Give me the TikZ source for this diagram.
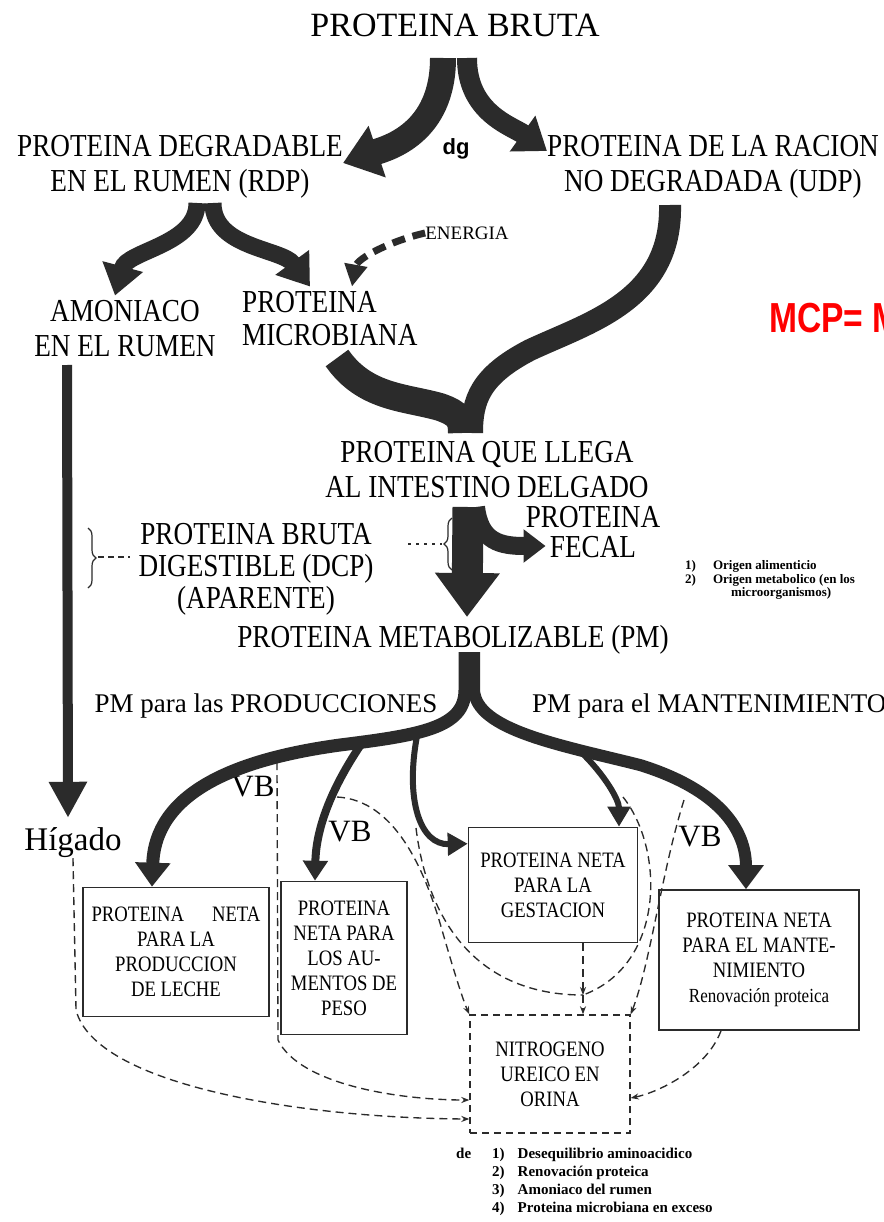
\documentclass[tikz,border=0pt]{standalone}
\usepackage{fontspec}
\setmainfont{Liberation Serif}
\newfontfamily\condfont{Liberation Serif}[FakeStretch=0.85]
\newfontfamily\mcpfont{Liberation Sans}[FakeStretch=0.8]
\newfontfamily\sansfont{Liberation Sans}
\usepackage{xcolor}
\usepackage{tikz}
\usetikzlibrary{arrows.meta,decorations.pathreplacing}
\definecolor{ink}{HTML}{2B2B2B}
\definecolor{mcpred}{HTML}{FF0000}
\newcommand{\fsz}[2]{\fontsize{#1}{#2}\selectfont}

\begin{document}
\begin{tikzpicture}[x=1pt,y=-1pt,
  txt/.style={font=\condfont\fsz{32}{35},align=center,inner sep=0pt},
  plain/.style={inner sep=0pt},
  boxtxt/.style={font=\condfont\fsz{22}{25},align=center},
  netbox/.style={draw=ink,line width=1.6pt,boxtxt,inner sep=0pt},
  urbox/.style={netbox,line width=1.4pt,dash pattern=on 7pt off 5pt},
  note/.style={font=\bfseries\fsz{13}{13.5},align=left,inner sep=0pt},
  fat/.style={draw=ink,line width=#1},
  ahead/.style 2 args={-{Triangle[length=#1,width=#2]}},
  loss/.style={draw=ink,line width=1.35pt,dash pattern=on 8pt off 5pt},
  lossarr/.style={loss,-{Stealth[length=8pt,width=6pt]}}
]
\useasboundingbox (0,0) rectangle (883,1222);
\fill[white] (0,0) rectangle (883,1222);
\clip (0,0) rectangle (883,1222);

\node[plain,font=\fsz{34}{34}] (pb) at (455,25) {PROTEINA BRUTA};
\node[txt] (rdp) at (180,167) {PROTEINA DEGRADABLE\\EN EL RUMEN (RDP)};
\node[txt] (udp) at (713,167) {PROTEINA DE LA RACION\\NO DEGRADADA (UDP)};
\node[plain,font=\sansfont\bfseries\fsz{22}{22}] (dg) at (456,149) {dg};
\node[plain,font=\fsz{19}{19}] (energia) at (467,233) {ENERGIA};
\node[txt] (amon) at (125,329) {AMONIACO\\EN EL RUMEN};
\node[txt,anchor=west,align=left,font=\condfont\fsz{32}{33}] (micro) at (242,319) {PROTEINA\\MICROBIANA};
\node[plain,font=\mcpfont\bfseries\fsz{42}{42},text=mcpred,anchor=west] (mcp) at (769,318) {MCP= M};
\node[txt] (intest) at (487,470) {PROTEINA QUE LLEGA\\AL INTESTINO DELGADO};
\node[txt,font=\condfont\fsz{32}{30}] (fecal) at (593,532) {PROTEINA\\FECAL};
\node[txt,font=\condfont\fsz{32}{32}] (dcp) at (256,569) {PROTEINA BRUTA\\DIGESTIBLE (DCP)\\(APARENTE)};
\node[note,anchor=north west] (origen) at (685,560) {\begin{tabular}{@{}l@{\hspace{17pt}}l@{}}
1) & Origen alimenticio\\
2) & Origen metabolico (en los\\
 & \hspace{18pt}microorganismos)\end{tabular}};
\node[txt] (pm) at (453,640) {PROTEINA METABOLIZABLE (PM)};
\node[plain,font=\fsz{27}{27}] (prod) at (266,706) {PM para las PRODUCCIONES};
\node[plain,font=\fsz{27}{27},anchor=west] (mantpm) at (532,706) {PM para el MANTENIMIENTO};
\node[plain,font=\fsz{31}{31}] (vb1) at (253,787) {VB};
\node[plain,font=\fsz{31}{31}] (vb2) at (350,832) {VB};
\node[plain,font=\fsz{31}{31}] (vb3) at (700,837) {VB};
\node[plain,font=\fsz{33}{33}] (higado) at (73,843) {Hígado};

\node[netbox,minimum width=186pt,minimum height=129pt] (leche) at (176,952) {PROTEINA\hspace{28pt}NETA\\PARA LA\\PRODUCCION\\DE LECHE};
\node[netbox,minimum width=126pt,minimum height=153pt] (peso) at (344,958) {PROTEINA\\NETA PARA\\LOS AU-\\MENTOS DE\\PESO};
\node[netbox,minimum width=169pt,minimum height=115pt] (gest) at (553,885) {PROTEINA NETA\\PARA LA\\GESTACION};
\node[netbox,minimum width=200pt,minimum height=140pt] (mant) at (759,960) {PROTEINA NETA\\PARA EL MANTE-\\NIMIENTO\\{\fsz{20}{25}Renovación proteica}};
\node[urbox,minimum width=160pt,minimum height=118pt] (orina) at (550,1074) {NITROGENO\\UREICO EN\\ORINA};
\node[note,anchor=north west,font=\bfseries\fsz{15}{18.3}] (causas) at (456,1145) {\begin{tabular}{@{}l@{\hspace{21pt}}l@{\hspace{13pt}}l@{}}
de & 1) & Desequilibrio aminoacidico\\
 & 2) & Renovación proteica\\
 & 3) & Amoniaco del rumen\\
 & 4) & Proteina microbiana en exceso\end{tabular}};

\coordinate (pbfork) at (455,58);
\coordinate (rdpfork) at (205,203);
\coordinate (udpout) at (670,205);
\coordinate (micout) at (337,358);
\coordinate (intfork) at (468,507);
\coordinate (intend) at (467,617);
\coordinate (nh3out) at (67,365);
\coordinate (pmfork) at (469,652);
\coordinate (brpeso) at (362,743);
\coordinate (brgest) at (417,736);
\coordinate (brgtop) at (580,751);
\coordinate (junta) at (583,995);

\draw[fat=26pt,ahead={36pt}{52pt}] ([xshift=-12pt]pbfork) .. controls +(0,75) and +(45,-15) .. (rdp.east |- 0,163);
\draw[fat=20pt,ahead={30pt}{42pt}] ([xshift=12pt]pbfork) .. controls +(0,55) and +(-35,-25) .. ([yshift=16pt]udp.west);
\draw[fat=17pt,ahead={30pt}{40pt}] ([xshift=-8pt]rdpfork) .. controls +(0,42) and +(12,-45) .. ([xshift=-10pt,yshift=5pt]amon.north);
\draw[fat=17pt,ahead={30pt}{40pt}] ([xshift=8pt]rdpfork) .. controls +(0,45) and +(-28,-38) .. ([xshift=68pt,yshift=5pt]micro.north west);
\draw[fat=7pt,dash pattern=on 13pt off 8pt,ahead={22pt}{22pt}] (energia.west) .. controls +(-35,8) and +(5,-28) .. ([xshift=110pt,yshift=5pt]micro.north west);
\draw[fat=22pt] (udpout) .. controls (672,300) and (590,322) .. (530,350) .. controls (480,376) and (472,400) .. (472,433);
\draw[fat=28pt] (micout) .. controls (365,398) and (405,397) .. (440,407) .. controls (460,414) and (462,420) .. (462,433);
\draw[fat=31pt,ahead={44pt}{62pt}] (intfork) -- (intend);
\draw[fat=18pt,ahead={22pt}{32pt}] ([xshift=8pt]intfork) .. controls +(4,35) and +(-45,0) .. ([xshift=20pt,yshift=-14pt]fecal.west);
\draw[ink,line width=1.2pt,decorate,decoration={brace,amplitude=8pt}] (452,570) -- (452,518);
\draw[ink,line width=1.2pt,decorate,decoration={brace,amplitude=8pt}] (88,528) -- (88,588);
\draw[ink,line width=2.5pt,dash pattern=on 3pt off 5pt] (408,544) -- (442,544);
\draw[ink,line width=1.5pt,dash pattern=on 6pt off 4pt] (98,557) -- (130,557);
\draw[fat=10pt,ahead={36pt}{36pt}] (nh3out) -- ([xshift=-5pt,yshift=10pt]higado.north);

\draw[fat=13pt,ahead={24pt}{34pt}] ([xshift=-4pt]pmfork) -- ++(0,38) .. controls +(0,38) and (420,735) .. (340,745) .. controls (230,760) and (155,795) .. ([xshift=-24pt]leche.north);
\draw[fat=12pt,ahead={24pt}{34pt}] ([xshift=5pt]pmfork) -- ++(0,38) .. controls +(2,40) and (560,745) .. (640,765) .. controls (720,790) and (746,830) .. ([xshift=-13pt]mant.north);
\draw[fat=8pt,ahead={20pt}{24pt}] (brpeso) .. controls (330,790) and (316,830) .. ([xshift=-29pt]peso.north);
\draw[fat=6pt,ahead={20pt}{22pt}] (brgest) .. controls (405,800) and (420,845) .. ([yshift=-17pt]gest.north west);
\draw[fat=6pt,ahead={20pt}{22pt}] (brgtop) .. controls (605,775) and (619,800) .. ([xshift=66pt]gest.north);

\draw[lossarr] (higado.south) -- (76,1010) .. controls (95,1085) and (300,1118) .. ([yshift=-45pt]orina.west);
\draw[lossarr] (277,762) -- (278,1040) .. controls (300,1085) and (400,1100) .. ([yshift=-26pt]orina.west);
\draw[lossarr] (337,797) .. controls (395,800) and (425,870) .. (442,930) .. controls (455,975) and (463,1000) .. (orina.north west);
\draw[loss] (416,828) .. controls (428,925) and (480,995) .. (junta);
\draw[loss] (623,797) .. controls (665,850) and (665,965) .. (junta);
\draw[lossarr] ([xshift=30pt]gest.south) -- (junta);
\draw[lossarr] (junta) -- ([xshift=33pt]orina.north);
\draw[lossarr] (684,800) .. controls (662,870) and (650,965) .. (orina.north east);
\draw[lossarr] ([xshift=-38pt]mant.south) .. controls +(-15,40) and +(25,-5) .. ([yshift=-24pt]orina.east);
\end{tikzpicture}
\end{document}
